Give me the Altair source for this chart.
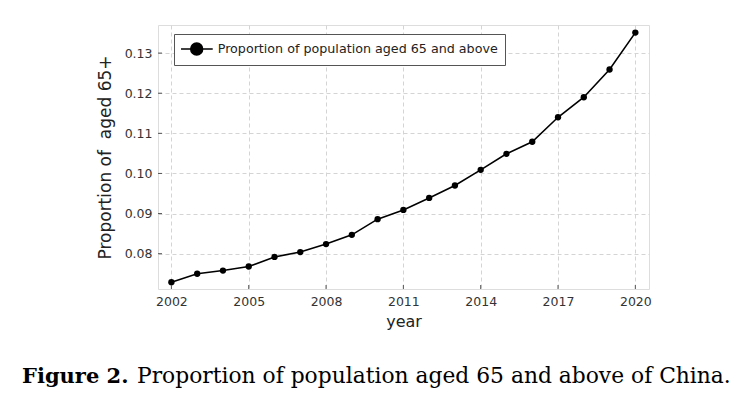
import altair as alt
import pandas as pd

years = list(range(2002, 2021))
values = [0.0729, 0.0750, 0.0758, 0.0768, 0.0792, 0.0804, 0.0824, 0.0847, 0.0886,
          0.0909, 0.0939, 0.0970, 0.1009, 0.1049, 0.1079, 0.1140, 0.1190, 0.1259, 0.1351]
series_name = "Proportion of population aged 65 and above"
x_ticks = [2002, 2005, 2008, 2011, 2014, 2017, 2020]
y_ticks = [0.08, 0.09, 0.10, 0.11, 0.12, 0.13]
caption_bold = "Figure 2."
caption_rest = "Proportion of population aged 65 and above of China."

df = pd.DataFrame({"year": years, "value": values, "series": [series_name] * len(years)})

W, H = 491, 264
xs = alt.Scale(domain=[2001.48, 2020.53], nice=False, zero=False)
ys = alt.Scale(domain=[0.0712, 0.137], nice=False, zero=False)

legend_symbol = ("M-1.14,0L3.39,0"
                 "M0.24,0A0.86,0.86 0 1,0 1.96,0A0.86,0.86 0 1,0 0.24,0Z")

line = alt.Chart(df).mark_line(
    point=alt.OverlayMarkDef(size=40, filled=True, opacity=1), strokeWidth=1.6
).encode(
    x=alt.X("year:Q", scale=xs, axis=alt.Axis(
        values=x_ticks, format="d", title="year", grid=True,
        gridDash=[4, 3], gridColor="#d4d4d4", ticks=False, labelPadding=6,
        labelFontSize=12.5, labelColor="#333", labelFont="DejaVu Sans",
        titleFontSize=16, titleFont="DejaVu Sans", titleFontWeight="normal",
        titleColor="#222", titlePadding=6, domain=False)),
    y=alt.Y("value:Q", scale=ys, axis=alt.Axis(
        values=y_ticks, format=".2f", title="Proportion of \u00a0aged 65+", grid=True,
        gridDash=[4, 3], gridColor="#d4d4d4", ticks=False, labelPadding=6,
        labelFontSize=12.5, labelColor="#333", labelFont="DejaVu Sans",
        titleFontSize=17, titleFont="DejaVu Sans", titleFontWeight="normal",
        titleColor="#222", titlePadding=10, domain=False)),
    color=alt.Color("series:N", scale=alt.Scale(range=["black"]), legend=alt.Legend(
        title=None, orient="none", legendX=16, legendY=9,
        symbolType=legend_symbol,
        symbolSize=196, symbolStrokeWidth=1.4, symbolStrokeColor="black",
        symbolFillColor="black", labelFontSize=12.7, labelFont="DejaVu Sans",
        labelColor="#222", padding=7, strokeColor="#555", fillColor="white",
        labelOffset=20.7, labelLimit=500)),
)

xt = pd.DataFrame({"t": x_ticks})
yt = pd.DataFrame({"t": y_ticks})
xticks = alt.Chart(xt).mark_rule(color="#555", strokeWidth=1).encode(
    x=alt.X("t:Q", scale=xs), y=alt.value(H), y2=alt.value(H - 4))
yticks = alt.Chart(yt).mark_rule(color="#555", strokeWidth=1).encode(
    y=alt.Y("t:Q", scale=ys), x=alt.value(0), x2=alt.value(4))

cap = pd.DataFrame({"a": [caption_bold], "b": [caption_rest]})
cap1 = alt.Chart(cap).mark_text(align="left", baseline="alphabetic", fontSize=21,
                                font="DejaVu Serif", fontWeight="bold", color="black").encode(
    x=alt.value(-136), y=alt.value(358), text="a:N")
cap2 = alt.Chart(cap).mark_text(align="left", baseline="alphabetic", fontSize=21.8,
                                font="DejaVu Serif", color="black").encode(
    x=alt.value(-21), y=alt.value(358), text="b:N")

chart = alt.layer(line, xticks, yticks, cap1, cap2).properties(
    width=W, height=H,
    autosize=alt.AutoSizeParams(type="none"),
    padding={"left": 150, "top": 17, "right": 99, "bottom": 110},
).configure_view(stroke="#555", strokeWidth=1.5).configure(background="white")

chart.save("out.html", embed_options={"renderer": "svg", "actions": False})
